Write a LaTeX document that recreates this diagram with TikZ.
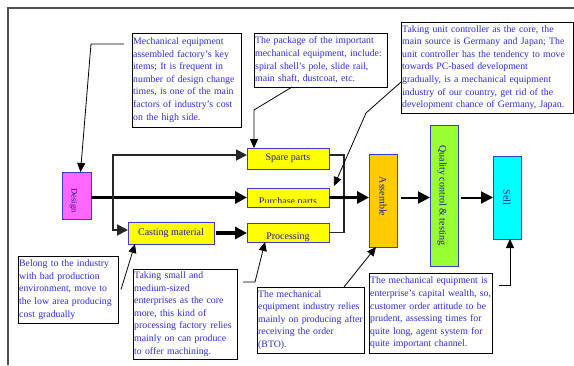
\documentclass[tikz,border=0pt]{standalone}
\usepackage{fontspec}
\setmainfont{Liberation Serif}
\usetikzlibrary{arrows.meta}

\definecolor{noteblue}{RGB}{45,45,215}
\definecolor{labelblue}{RGB}{25,25,150}
\definecolor{boxblue}{RGB}{60,60,200}
\definecolor{designpink}{RGB}{255,102,255}
\definecolor{partyellow}{RGB}{255,255,0}
\definecolor{asmorange}{RGB}{255,204,0}
\definecolor{qcgreen}{RGB}{153,255,51}
\definecolor{sellcyan}{RGB}{0,255,255}
\definecolor{framegray}{RGB}{80,80,80}

\tikzset{
  note/.style={draw=black, line width=0.8pt, fill=white, anchor=north west,
    font=\fontsize{9.8}{12.6}\selectfont, text=noteblue, align=left,
    inner xsep=1.2pt, inner ysep=1pt, outer sep=0pt},
  block/.style={draw=boxblue, line width=0.8pt, anchor=north west,
    inner sep=0pt, outer sep=0pt},
  blocklabel/.style={font=\fontsize{10}{12}\selectfont, text=labelblue, inner sep=0pt},
  lead/.style={draw=black, line width=0.8pt, -{Triangle[length=9pt,width=8pt]}},
  heavy/.style={draw=black, line width=3.6pt, -{Triangle[length=12pt,width=12pt]}},
  midflow/.style={draw=black, line width=2pt, -{Triangle[length=12pt,width=12pt]}},
  branch/.style={draw=black!85, line width=1.8pt, -{Triangle[length=11pt,width=11pt]}},
  branchline/.style={draw=black!85, line width=1.8pt},
}

\begin{document}
\begin{tikzpicture}[x=1pt,y=-1pt]
\useasboundingbox (0,0) rectangle (574,365);

% outer frame (only top and left edges fall inside the page)
\draw[framegray, line width=1.3pt] (8,365) -- (8,8) -- (574,8);

% ---- process blocks ----
\node[block, fill=designpink, minimum width=29pt, minimum height=47pt] (design) at (62,172) {};
\node[blocklabel, rotate=-90, font=\fontsize{8.5}{10}\selectfont] (designtxt) at ([xshift=-3pt,yshift=-5pt]design.center) {Design};

\node[block, fill=partyellow, minimum width=82pt, minimum height=21pt] (spare) at (247,148) {};
\node[blocklabel] (sparetxt) at (spare.center) {Spare parts};

\node[block, fill=partyellow, minimum width=82pt, minimum height=19pt] (purch) at (247,188) {};
\begin{scope}
  \clip ([xshift=1pt,yshift=5pt]purch.south west) rectangle ([xshift=-1pt,yshift=-1pt]purch.north east);
  \node[blocklabel, anchor=base] (purchtxt) at ([yshift=2.6pt]purch.south) {Purchase parts};
\end{scope}

\node[block, fill=partyellow, minimum width=82pt, minimum height=19pt] (proc) at (247,223) {};
\begin{scope}
  \clip ([xshift=1pt,yshift=1pt]proc.south west) rectangle ([xshift=-1pt,yshift=-1pt]proc.north east);
  \node[blocklabel, anchor=base] (proctxt) at ([yshift=2.5pt]proc.south) {Processing};
\end{scope}

\node[block, fill=partyellow, minimum width=86pt, minimum height=22pt] (cast) at (128,222) {};
\node[blocklabel] (casttxt) at (cast.center) {Casting material};

\node[block, fill=asmorange, minimum width=28pt, minimum height=93pt] (asm) at (369,154) {};
\node[blocklabel, rotate=-90] (asmtxt) at ([yshift=4pt]asm.center) {Assemble};

\node[block, fill=qcgreen, minimum width=28pt, minimum height=141pt] (qc) at (430,125) {};
\node[blocklabel, rotate=-90] (qctxt) at ([xshift=-2pt]qc.center) {Quality control \& testing};

\node[block, fill=sellcyan, minimum width=28pt, minimum height=83pt] (sell) at (493,156) {};
\node[blocklabel, rotate=-90] (selltxt) at (sell.center) {Sell};

% ---- notes ----
\node[note, text width=106.6pt, minimum height=94pt] (n1) at (132,33)
  {Mechanical equipment\\assembled factory's key\\items; It is frequent in\\number of design change\\times, is one of the main\\factors of industry's cost\\on the high side.};

\node[note, text width=130.6pt, minimum height=54pt] (n2) at (254,33)
  {The package of the important\\mechanical equipment, include:\\spiral shell’s pole, slide rail,\\main shaft, dustcoat, etc.};

\node[note, text width=169.6pt, minimum height=91pt] (n3) at (401,22)
  {\mbox{Taking unit controller as the core, the}\\\mbox{main source is Germany and Japan; The}\\\mbox{unit controller has the tendency to move}\\towards PC-based development\\\mbox{gradually, is a mechanical equipment}\\\mbox{industry of our country, get rid of the}\\\mbox{development chance of Germany, Japan.}};

\node[note, text width=97.6pt, minimum height=67pt] (n4) at (18,256)
  {Belong to the industry\\with bad production\\environment, move to\\the low area producing\\cost gradually};

\node[note, text width=101.6pt, minimum height=90pt] (n5) at (133,269)
  {Taking small and\\medium-sized\\enterprises as the core\\more, this kind of\\\mbox{processing factory relies}\\mainly on can produce\\to offer machining.};

\node[note, text width=104.6pt, minimum height=66pt] (n6) at (257,287)
  {The mechanical\\\mbox{equipment industry relies}\\\mbox{mainly on producing after}\\receiving the order\\(BTO).};

\node[note, text width=120.6pt, minimum height=80pt] (n7) at (369,273)
  {\mbox{The mechanical equipment is}\\\mbox{enterprise's capital wealth, so,}\\\mbox{customer order attitude to be}\\prudent, assessing times for\\quite long, agent system for\\quite important channel.};

% ---- main flow ----
\coordinate (brT) at (113,155);
\coordinate (brB) at (113,230);
\coordinate (jn) at (344,0);

\draw[heavy] (design.east |- purch.west) -- (purch.west);
\draw[branch] (brB) -- (brT) -- (spare.west |- brT);
\draw[branch] (brT) -- (brB) -- (cast.west |- brB);
\draw[heavy] ([xshift=2pt]cast.east) -- (proc.west |- cast.east);

\draw[branchline] ([yshift=3.5pt]spare.east) -| (jn |- proc.east) -- (proc.east);
\draw[heavy] (purch.east) -- (asm.west |- purch.east);
\draw[midflow] ([xshift=4pt]asm.east |- purch.east) -- (qc.west |- purch.east);
\draw[midflow] ([xshift=3pt]qc.east |- purch.east) -- (sell.west |- purch.east);

% ---- note leaders ----
\draw[lead] ([xshift=-8pt,yshift=-11pt]n1.north west) -- (91,44) -- ([xshift=4pt]design.north);
\draw[lead] ([xshift=38pt]n2.south west) -- (254,110) -- ([xshift=7pt]spare.north west);
\draw[lead] ([yshift=-60pt]n3.north west) -- (366,113) -- ([xshift=5pt,yshift=2pt]purch.north east);
\draw[lead] ([xshift=3pt]n4.east) -- ([xshift=7pt]cast.south west);
\draw[lead] ([xshift=6pt,yshift=-13pt]n5.north east) -- (255,282) -- ([xshift=18pt]proc.south west);
\draw[lead] ([xshift=87pt]n6.north west) -- ([xshift=7pt]asm.south west);
\draw[lead] ([xshift=7pt,yshift=-12pt]n7.north east) -- (510,285) -- ([xshift=3pt]sell.south);
\end{tikzpicture}
\end{document}
